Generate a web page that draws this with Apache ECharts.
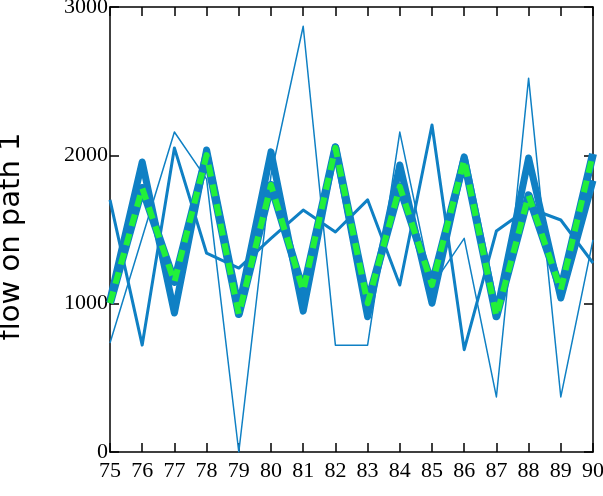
<!DOCTYPE html>
<html>
<head>
<meta charset="utf-8">
<script src="https://cdn.jsdelivr.net/npm/echarts@6/dist/echarts.min.js"></script>
<style>
  html, body { margin: 0; padding: 0; background: #fff; }
  #chart { width: 603px; height: 496px; }
</style>
</head>
<body>
<div id="chart"></div>
<script>
// time steps on the x axis
const steps = [75, 76, 77, 78, 79, 80, 81, 82, 83, 84, 85, 86, 87, 88, 89, 90];

// flow values
const thickFlow = [1025, 1955, 937, 2036, 975, 2023, 950, 2058, 912, 1935, 1003, 1990, 930, 1982, 1038, 1830];
const dashedFlow = [1004, 1780, 1146, 2002, 930, 1800, 1085, 2050, 1003, 1789, 1126, 1969, 915, 1730, 1092, 2010];
const mediumFlow = [1700, 721, 2050, 1340, 1240, 1440, 1631, 1483, 1700, 1126, 2205, 690, 1490, 1645, 1564, 1274];
const thinFlow = [735, 1446, 2157, 1840, 0, 1867, 2870, 720, 720, 2157, 1120, 1440, 371, 2520, 371, 1430];

const blue = "#0f80c4";
const green = "#22f03a";

function pairs(values) {
  return values.map((v, i) => [steps[i], v]);
}

function lineSeries(values, width, color, extra) {
  return Object.assign({
    type: "line",
    data: pairs(values),
    showSymbol: false,
    symbol: "none",
    silent: true,
    animation: false,
    lineStyle: { width: width, color: color, join: "round" }
  }, extra || {});
}

const labelFont = { fontFamily: "Liberation Serif", fontSize: 22, color: "#000", formatter: v => String(v) };
const axisLine = { show: true, onZero: false, lineStyle: { color: "#000", width: 1.5 } };
const tick = { show: true, inside: true, length: 9, lineStyle: { color: "#000", width: 1.5 } };

const myChart = echarts.init(document.getElementById("chart"));
const option = {
  backgroundColor: "#fff",
  grid: { left: 110, right: 10, top: 7, bottom: 44, containLabel: false, outerBoundsMode: "none" },
  xAxis: [
    {
      type: "value", min: 75, max: 90, interval: 1, position: "bottom",
      axisLine: axisLine, axisTick: tick, splitLine: { show: false },
      axisLabel: Object.assign({ margin: 8 }, labelFont)
    },
    {
      type: "value", min: 75, max: 90, interval: 1, position: "top",
      axisLine: axisLine, axisTick: tick, splitLine: { show: false },
      axisLabel: { show: false }
    }
  ],
  yAxis: [
    {
      type: "value", min: 0, max: 3000, interval: 1000, position: "left",
      name: "flow on path 1", nameLocation: "middle", nameRotate: 90, nameGap: 84,
      nameTextStyle: { fontFamily: "DejaVu Sans", fontSize: 29, color: "#000", padding: [0, 14, 0, 0] },
      axisLine: axisLine, axisTick: tick, splitLine: { show: false },
      axisLabel: Object.assign({ margin: 2 }, labelFont)
    },
    {
      type: "value", min: 0, max: 3000, interval: 1000, position: "right",
      axisLine: axisLine, axisTick: tick, splitLine: { show: false },
      axisLabel: { show: false }
    }
  ],
  series: [
    lineSeries(thinFlow, 1.5, blue),
    lineSeries(mediumFlow, 3, blue),
    lineSeries(thickFlow, 7, blue),
    lineSeries(dashedFlow, 8, blue),
    lineSeries(dashedFlow, 6, green, {
      lineStyle: { width: 6, color: green, type: [12, 8], join: "round" }
    })
  ]
};
myChart.setOption(option);
</script>
</body>
</html>
